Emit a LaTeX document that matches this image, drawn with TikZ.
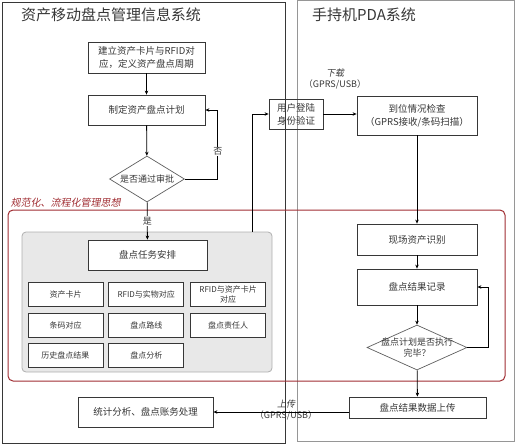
\documentclass[tikz,border=0pt]{standalone}
\usepackage{fontspec}
\setmainfont{Noto Sans CJK SC}
\newfontfamily\slantcjk[FakeSlant=0.2]{Noto Sans CJK SC}
\usepackage{xcolor}
\usepackage{tikz}
\usetikzlibrary{shapes.geometric,arrows.meta,positioning,calc}
\definecolor{InkGray}{RGB}{55,55,55}
\definecolor{FrameGray}{RGB}{150,150,150}
\definecolor{PanelGray}{RGB}{232,232,232}
\definecolor{RimGray}{RGB}{175,175,175}
\definecolor{DkRed}{RGB}{160,45,50}

\begin{document}
\begin{tikzpicture}[x=1pt,y=-1pt,
  node distance=6pt and 5.5pt,
  pbox/.style={rectangle,draw=InkGray,fill=white,line width=0.8pt,
    minimum width=120pt,minimum height=31pt,inner sep=2pt,
    align=center,font=\fontsize{9.5}{13}\selectfont,text=InkGray},
  sbox/.style={pbox,minimum width=75pt,minimum height=24pt,
    font=\fontsize{8}{10}\selectfont},
  dbox/.style={diamond,draw=InkGray!80,fill=white,line width=0.7pt,inner sep=0pt,
    align=center,font=\fontsize{9}{11}\selectfont,text=InkGray},
  arr/.style={-{Stealth[length=4pt,width=3.5pt]},line width=0.8pt,color=black},
  lbl/.style={font=\fontsize{9}{10.5}\selectfont,text=InkGray,align=center,inner sep=1pt},
  ttl/.style={font=\fontsize{15}{18}\selectfont,text=InkGray}
]
\useasboundingbox (0,0) rectangle (520,445);

% two system frames
\draw[InkGray,line width=0.9pt] (2,2) rectangle (285,443);
\draw[FrameGray,line width=1pt] (297,0.5) rectangle (514,441);
\node[ttl] (misttl) at (111,15) {资产移动盘点管理信息系统};
\node[ttl] (pdattl) at (364,15) {手持机PDA系统};

% management idea area
\node[draw=DkRed,line width=1pt,rounded corners=5pt,
  minimum width=497pt,minimum height=171pt] (norm) at (256.5,295.5) {};
\node[font=\slantcjk\fontsize{10}{12}\selectfont,text=DkRed,inner sep=1pt,
  above right=1pt and 2pt of norm.north west] (normtxt) {规范化、流程化管理思想};
\node[fill=PanelGray,draw=RimGray,line width=0.8pt,rounded corners=4pt,
  minimum width=250pt,minimum height=140pt] (panel) at (147,302) {};

% left system
\node[pbox,minimum width=117pt] (build) at (146.5,57.5) {建立资产卡片与RFID对\\应，定义资产盘点周期};
\node[pbox,minimum width=117pt,minimum height=30pt] (plan) at (146.5,110) {制定资产盘点计划};
\node[dbox,aspect=1.6,minimum width=75pt,minimum height=46pt] (approve) at (147,179) {是否通过审批};
\node[pbox,minimum width=119pt,minimum height=30pt] (task) at (147.5,255) {盘点任务安排};

\node[sbox] (card) at (65.5,294.5) {资产卡片};
\node[sbox,right=5pt of card] (rfidobj) {RFID与实物对应};
\node[sbox,right=6pt of rfidobj] (rfidcard) {RFID与资产卡片\\对应};
\node[sbox,below=6pt of card] (barcode) {条码对应};
\node[sbox,below=6pt of rfidobj] (route) {盘点路线};
\node[sbox,below=6pt of rfidcard] (owner) {盘点责任人};
\node[sbox,below=5pt of barcode] (history) {历史盘点结果};
\node[sbox,below=5pt of route] (analysis) {盘点分析};

\node[pbox,minimum width=135pt,minimum height=30pt] (stats) at (145.5,412) {统计分析、盘点账务处理};

% PDA system
\node[pbox,fill=none,minimum width=54pt,minimum height=30pt] (login) at (296,114) {用户登陆\\身份验证};
\node[pbox,minimum height=39pt] (check) at (417,115.5) {到位情况检查\\（GPRS接收/条码扫描）};
\node[pbox] (scene) at (417,239.5) {现场资产识别};
\node[pbox,minimum height=36pt] (record) at (417,287) {盘点结果记录};
\node[dbox,aspect=2.2,inner sep=-10pt,minimum width=100pt,minimum height=45pt] (done) at (417,347.5) {盘点计划是否执行\\完毕？};
\node[pbox,minimum width=137pt,minimum height=21pt] (upload) at (417.5,407.5) {盘点结果数据上传};

\node[lbl] (dltxt) at (335,79) {{\slantcjk 下载}\\（GPRS/USB）};
\node[lbl] (ultxt) at (286,410) {{\slantcjk 上传}\\（GPRS/USB）};

% flow
\draw[arr] (build) -- (plan);
\draw[arr] (plan) -- (approve);
\draw[arr] (approve.east) -- ++(33,0) -- node[lbl,fill=white,pos=0.4]{否} ++(0,-69) -- (plan.east);
\draw[arr] (approve) -- node[lbl,fill=white]{是} (task);
\draw[arr] ([xshift=105pt]panel.north) |- (login.west);
\draw[arr] (login.east) -- (login.east -| check.west);
\draw[arr] (check) -- (scene);
\draw[arr] (scene) -- (record);
\draw[arr] (record) -- (done);
\draw[arr] (done.east) -- ++(21,0) |- (record.east);
\draw[arr] (done) -- (upload);
\draw[arr] (upload.west |- stats.east) -- (stats.east);
\end{tikzpicture}
\end{document}
